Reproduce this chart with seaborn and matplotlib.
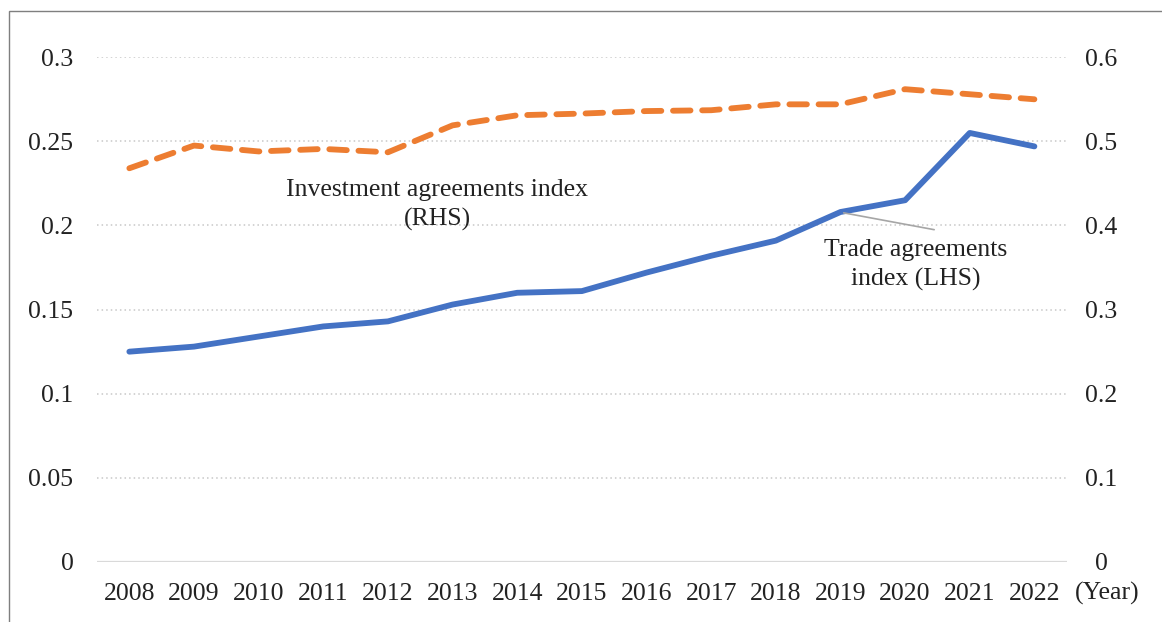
import numpy as np
import pandas as pd
import matplotlib.pyplot as plt
import seaborn as sns
from matplotlib.patches import Rectangle

years = list(range(2008, 2023))
trade_index = [0.125, 0.128, 0.134, 0.140, 0.143, 0.153, 0.160, 0.161,
               0.172, 0.182, 0.191, 0.208, 0.215, 0.255, 0.247]
invest_index = [0.468, 0.495, 0.488, 0.491, 0.487, 0.519, 0.531, 0.533,
                0.536, 0.537, 0.544, 0.544, 0.562, 0.556, 0.550]

left_ticks = [0, 0.05, 0.1, 0.15, 0.2, 0.25, 0.3]
right_ticks = [0, 0.1, 0.2, 0.3, 0.4, 0.5, 0.6]

df = pd.DataFrame({'year': years, 'trade': trade_index, 'invest': invest_index})

sns.set_style('white')
plt.rcParams['font.family'] = ['Liberation Serif', 'DejaVu Serif']
fs = 18.5
txt = '#222222'

fig = plt.figure(figsize=(11.62, 6.22), dpi=100)
ax = fig.add_axes([0.0835, 0.0965, 0.8345, 0.8115])
ax2 = ax.twinx()

# grid
for t in left_ticks[1:]:
    ax.axhline(t, color='#c8c8c8', linestyle=(0, (1, 2)), linewidth=1.1, zorder=0)
ax.axhline(0, color='#d9d9d9', linewidth=1.6, zorder=0)

sns.lineplot(data=df, x='year', y='trade', ax=ax, color='#4472C4', linewidth=4.2)
sns.lineplot(data=df, x='year', y='invest', ax=ax2, color='#ED7D31', linewidth=4.2)
ax2.lines[0].set_dashes([3.0, 2.0])
ax2.lines[0].set_dash_capstyle('round')
ax.lines[-1].set_solid_capstyle('round')

ax.set_xlim(2007.5, 2022.5)
ax.set_ylim(0, 0.3)
ax2.set_ylim(0, 0.6)
ax.set_yticks(left_ticks)
ax.set_yticklabels([f'{t:g}' for t in left_ticks])
ax2.set_yticks(right_ticks)
ax2.set_yticklabels([f'{t:g}' for t in right_ticks])
ax.set_xticks(years)
ax.set_xticklabels([str(y) for y in years])

for a in (ax, ax2):
    for s in a.spines.values():
        s.set_visible(False)
    a.set_xlabel('')
    a.set_ylabel('')
ax.tick_params(axis='both', length=0, labelsize=fs, colors=txt)
ax.tick_params(axis='y', pad=17)
ax.tick_params(axis='x', pad=15)
ax2.tick_params(axis='y', length=0, labelsize=fs, colors=txt, pad=25)
for lbl in ax2.get_yticklabels():
    lbl.set_horizontalalignment('center')

ax.text(2022.62, -0.0185, '(Year)', fontsize=fs, color=txt, va='center', ha='left')

ax.text(2012.76, 0.2121, 'Investment agreements index\n(RHS)', fontsize=fs,
        ha='center', va='center', color=txt, linespacing=1.4)
ax.text(2020.17, 0.1764, 'Trade agreements\nindex (LHS)', fontsize=fs,
        ha='center', va='center', color=txt, linespacing=1.4)
ax.plot([2019.05, 2020.45], [0.2075, 0.1975], color='#a6a6a6', linewidth=1.2)

fig.patches.append(Rectangle((9 / 1162, -0.1), 1.2, 1 - 11 / 622 + 0.1,
                             transform=fig.transFigure, fill=False,
                             edgecolor='#7f7f7f', linewidth=1.0))

fig.savefig('out.png', dpi=100)
